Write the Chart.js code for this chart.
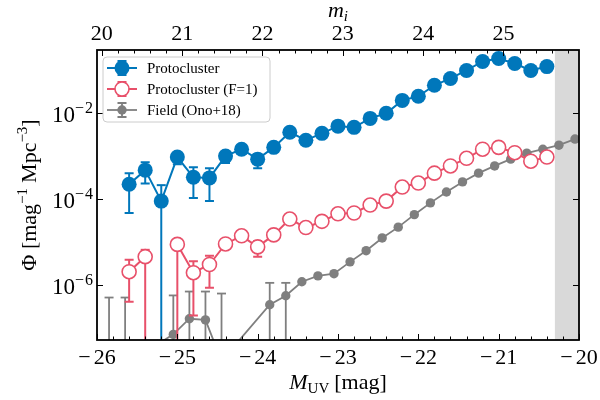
<!DOCTYPE html>
<html><head><meta charset="utf-8">
<script src="https://cdn.jsdelivr.net/npm/chart.js@4.4.0/dist/chart.umd.min.js"></script>
<style>html,body{margin:0;padding:0;background:#fff}#wrap{width:600px;height:400px}</style>
</head><body><div id="wrap"><canvas id="c" width="600" height="400"></canvas></div>
<script>
// ---------- data ----------
const protoMag = [-25.6,-25.4,-25.2,-25.0,-24.8,-24.6,-24.4,-24.2,-24.0,-23.8,-23.6,-23.4,-23.2,-23.0,-22.8,-22.6,-22.4,-22.2,-22.0,-21.8,-21.6,-21.4,-21.2,-21.0,-20.8,-20.6,-20.4];
const protoPhi = [2.2e-4,4.7e-4,8.9e-5,9.5e-4,3.2e-4,3.1e-4,1.0e-3,1.45e-3,8.5e-4,1.6e-3,3.6e-3,2.35e-3,3.4e-3,5.0e-3,4.7e-3,7.6e-3,1.0e-2,2.0e-2,2.5e-2,4.5e-2,6.5e-2,0.10,0.162,0.19,0.145,0.10,0.123];
const protoLo  = [4.7e-5,2.3e-4,0,6.5e-4,1.05e-4,8.9e-5,6.9e-4,1.2e-3,5.2e-4,1.35e-3,3.1e-3,2.0e-3,2.9e-3,4.4e-3,4.1e-3,6.8e-3,9.0e-3,1.8e-2,2.3e-2,4.2e-2,6.1e-2,0.095,0.155,0.182,0.138,0.094,0.116];
const protoHi  = [4.0e-4,7.2e-4,2.1e-4,1.2e-3,5.5e-4,5.2e-4,1.26e-3,1.7e-3,1.1e-3,1.85e-3,4.1e-3,2.7e-3,3.9e-3,5.6e-3,5.3e-3,8.4e-3,1.1e-2,2.2e-2,2.7e-2,4.8e-2,6.9e-2,0.105,0.169,0.198,0.152,0.106,0.13];

const f1Phi = [2.0e-6,4.5e-6,null,8.7e-6,1.9e-6,2.95e-6,8.9e-6,1.38e-5,7.6e-6,1.45e-5,3.4e-5,2.15e-5,3.0e-5,4.5e-5,4.7e-5,7.2e-5,8.9e-5,1.9e-4,2.35e-4,4.0e-4,5.9e-4,8.9e-4,1.45e-3,1.6e-3,1.2e-3,7.6e-4,9.5e-4];
const f1Lo  = [4.0e-7,0,null,0,1.9e-7,8.5e-7,7.5e-6,1.2e-5,4.5e-6,1.25e-5,3.0e-5,1.9e-5,2.7e-5,4.1e-5,4.3e-5,6.6e-5,8.2e-5,1.75e-4,2.2e-4,3.75e-4,5.6e-4,8.5e-4,1.38e-3,1.53e-3,1.14e-3,7.2e-4,9.0e-4];
const f1Hi  = [3.8e-6,6.5e-6,null,1.05e-5,3.5e-6,4.7e-6,1.05e-5,1.6e-5,1.05e-5,1.7e-5,3.8e-5,2.45e-5,3.3e-5,4.9e-5,5.1e-5,7.8e-5,9.6e-5,2.05e-4,2.5e-4,4.25e-4,6.2e-4,9.3e-4,1.52e-3,1.67e-3,1.26e-3,8.0e-4,1.0e-3];

const fieldMag = [-25.85,-25.65,-25.45,-25.25,-25.05,-24.85,-24.65,-24.45,-24.25,-24.05,-23.85,-23.65,-23.45,-23.25,-23.05,-22.85,-22.65,-22.45,-22.25,-22.05,-21.85,-21.65,-21.45,-21.25,-21.05,-20.85,-20.65,-20.45,-20.25,-20.05];
const fieldPhi = [null,null,null,4.0e-8,6.9e-8,1.6e-7,1.5e-7,1.66e-8,null,null,3.4e-7,5.5e-7,1.17e-6,1.6e-6,1.8e-6,3.4e-6,6.2e-6,1.23e-5,2.2e-5,4.3e-5,8.1e-5,1.45e-4,2.5e-4,4.0e-4,5.9e-4,8.5e-4,1.17e-3,1.45e-3,1.8e-3,2.5e-3];
const fieldLo  = [0,0,null,null,0,0,0,0,null,null,0,0,null,null,null,null,null,null,null,null,null,null,null,null,null,null,null,null,null,null];
const fieldHi  = [5.0e-7,5.0e-7,null,null,5.6e-7,6.9e-7,6.9e-7,6.2e-7,null,null,1.1e-6,1.1e-6,null,null,null,null,null,null,null,null,null,null,null,null,null,null,null,null,null,null];

const xTickLabels = [-26,-25,-24,-23,-22,-21,-20];
const topTickLabels = [20,21,22,23,24,25];
const yTickExponents = [-2,-4,-6];
const seriesNames = ['Protocluster','Protocluster (F=1)','Field (Ono+18)'];
const magOffset = 45.94;      // m_i = M_UV + offset
const shadeFrom = -20.3;      // grey shaded magnitude range
const shadeTo = -20.0;

// ---------- styles ----------
const BLUE = '#0077bb', RED = '#e8506a', GREY = '#7f7f7f';
const SERIF = '"Liberation Serif", "DejaVu Serif", serif';

function pts(xs, ys){ return xs.map((x,i)=>({x:x, y:ys[i]})); }

function drawRich(ctx, parts, x, y, align){
  let w = 0;
  parts.forEach(p=>{ ctx.font = p.font; p.w = ctx.measureText(p.t).width; w += p.w + (p.gap||0); });
  let cx = align==='center' ? x - w/2 : (align==='right' ? x - w : x);
  parts.forEach(p=>{ ctx.font = p.font; ctx.fillText(p.t, cx, y - (p.dy||0)); cx += p.w + (p.gap||0); });
}

const errorBars = {
  id:'errorBars',
  beforeDatasetDraw(chart, args){
    const ds = chart.data.datasets[args.index];
    if(!ds.errLo) return;
    const xs = chart.scales.x, ys = chart.scales.y, a = chart.chartArea, ctx = chart.ctx;
    ctx.save();
    ctx.beginPath(); ctx.rect(a.left, a.top, a.right-a.left, a.bottom-a.top); ctx.clip();
    ctx.strokeStyle = ds.borderColor; ctx.lineWidth = ds.errWidth;
    ds.data.forEach((p,i)=>{
      const lo = ds.errLo[i], hi = ds.errHi[i];
      if(lo===null || hi===null || lo===undefined) return;
      const px = xs.getPixelForValue(p.x);
      const yh = ys.getPixelForValue(hi);
      const yl = lo===0 ? a.bottom+5 : ys.getPixelForValue(lo);
      ctx.beginPath(); ctx.moveTo(px, yh); ctx.lineTo(px, yl); ctx.stroke();
      const c = ds.capHalf;
      ctx.beginPath(); ctx.moveTo(px-c, yh); ctx.lineTo(px+c, yh);
      if(lo!==0){ ctx.moveTo(px-c, yl); ctx.lineTo(px+c, yl); }
      ctx.stroke();
    });
    ctx.restore();
  }
};

const decor = {
  id:'decor',
  beforeDatasetsDraw(chart){
    const a = chart.chartArea, ctx = chart.ctx, xs = chart.scales.x;
    ctx.save();
    ctx.fillStyle = '#d9d9d9';
    const x0 = xs.getPixelForValue(shadeFrom), x1 = xs.getPixelForValue(shadeTo);
    ctx.fillRect(x0, a.top, x1-x0, a.bottom-a.top);
    ctx.restore();
  },
  afterDraw(chart){
    const a = chart.chartArea, ctx = chart.ctx, xs = chart.scales.x, x2 = chart.scales.x2, ys = chart.scales.y;
    ctx.save();
    // ticks (inward)
    ctx.strokeStyle = '#000'; ctx.lineWidth = 1;
    ctx.beginPath();
    for(let k=0;k<=30;k++){
      const v = -26 + k*0.2; const px = Math.round(xs.getPixelForValue(v))+0.5;
      const L = (k%5===0) ? 6 : 3.5;
      ctx.moveTo(px, a.bottom); ctx.lineTo(px, a.bottom-L);
    }
    for(let k=0;k<=35;k++){
      const v = 19.2 + k*0.2; if(v < x2.min-1e-6 || v > x2.max+1e-6) continue;
      const px = Math.round(x2.getPixelForValue(v))+0.5;
      const L = (Math.abs(v-Math.round(v))<1e-6) ? 6 : 3.5;
      ctx.moveTo(px, a.top); ctx.lineTo(px, a.top+L);
    }
    yTickExponents.forEach(e=>{
      const py = Math.round(ys.getPixelForValue(Math.pow(10,e)))+0.5;
      ctx.moveTo(a.left, py); ctx.lineTo(a.left+6, py);
      ctx.moveTo(a.right, py); ctx.lineTo(a.right-6, py);
    });
    ctx.stroke();
    // frame
    ctx.lineWidth = 1.8;
    ctx.strokeRect(a.left, a.top, a.right-a.left, a.bottom-a.top);
    // tick labels
    ctx.fillStyle = '#000'; ctx.textBaseline = 'alphabetic';
    xTickLabels.forEach(v=>{
      drawRich(ctx, [{t:'\u2212', font:'22px '+SERIF, gap:3},{t:String(Math.abs(v)), font:'22px '+SERIF}], xs.getPixelForValue(v), 364, 'center');
    });
    topTickLabels.forEach(v=>{
      drawRich(ctx, [{t:String(v), font:'22px '+SERIF}], x2.getPixelForValue(v), 40, 'center');
    });
    yTickExponents.forEach(e=>{
      const py = ys.getPixelForValue(Math.pow(10,e));
      drawRich(ctx, [{t:'10', font:'23px '+SERIF},{t:'\u2212', font:'16px '+SERIF, dy:9, gap:1},{t:String(Math.abs(e)), font:'16px '+SERIF, dy:9}], 93, py+9, 'right');
    });
    // axis titles
    drawRich(ctx, [{t:'M', font:'italic 22px '+SERIF},{t:'UV', font:'15px '+SERIF, dy:-4, gap:5},{t:'[mag]', font:'22px '+SERIF}], (a.left+a.right)/2, 389, 'center');
    drawRich(ctx, [{t:'m', font:'italic 22px '+SERIF},{t:'i', font:'italic 15px '+SERIF, dy:-4}], (a.left+a.right)/2, 17, 'center');
    ctx.save();
    ctx.translate(36, (a.top+a.bottom)/2); ctx.rotate(-Math.PI/2);
    drawRich(ctx, [{t:'\u03a6 [mag', font:'22px '+SERIF},{t:'\u22121', font:'15px '+SERIF, dy:9, gap:5},{t:'Mpc', font:'22px '+SERIF},{t:'\u22123', font:'15px '+SERIF, dy:9},{t:']', font:'22px '+SERIF}], 0, 0, 'center');
    ctx.restore();
    // legend
    const lx = 103, ly = 57, lw = 167, lh = 65, r = 4;
    ctx.beginPath();
    ctx.moveTo(lx+r, ly); ctx.lineTo(lx+lw-r, ly); ctx.quadraticCurveTo(lx+lw, ly, lx+lw, ly+r);
    ctx.lineTo(lx+lw, ly+lh-r); ctx.quadraticCurveTo(lx+lw, ly+lh, lx+lw-r, ly+lh);
    ctx.lineTo(lx+r, ly+lh); ctx.quadraticCurveTo(lx, ly+lh, lx, ly+lh-r);
    ctx.lineTo(lx, ly+r); ctx.quadraticCurveTo(lx, ly, lx+r, ly); ctx.closePath();
    ctx.fillStyle = 'rgba(255,255,255,0.85)'; ctx.fill();
    ctx.strokeStyle = '#cccccc'; ctx.lineWidth = 1; ctx.stroke();
    chart.data.datasets.forEach((ds,i)=>{
      const cy = 68 + i*21, cx = 122;
      ctx.strokeStyle = ds.borderColor; ctx.lineWidth = ds.borderWidth;
      ctx.beginPath(); ctx.moveTo(107, cy); ctx.lineTo(137, cy); ctx.stroke();
      ctx.lineWidth = ds.errWidth;
      ctx.beginPath(); ctx.moveTo(cx, cy-7); ctx.lineTo(cx, cy+7);
      ctx.moveTo(cx-ds.capHalf, cy-7); ctx.lineTo(cx+ds.capHalf, cy-7);
      ctx.moveTo(cx-ds.capHalf, cy+7); ctx.lineTo(cx+ds.capHalf, cy+7); ctx.stroke();
      ctx.beginPath(); ctx.arc(cx, cy, ds.pointRadius, 0, Math.PI*2);
      ctx.fillStyle = ds.pointBackgroundColor; ctx.fill();
      if(ds.pointBorderWidth>0){ ctx.lineWidth = ds.pointBorderWidth; ctx.strokeStyle = ds.pointBorderColor; ctx.stroke(); }
      ctx.fillStyle = '#000';
      drawRich(ctx, [{t:ds.label, font:'15px '+SERIF}], 147, cy+5, 'left');
    });
    ctx.restore();
  }
};

new Chart(document.getElementById('c').getContext('2d'), {
  type:'line',
  data:{ datasets:[
    { label:seriesNames[0], data:pts(protoMag, protoPhi), errLo:protoLo, errHi:protoHi,
      borderColor:BLUE, borderWidth:2, pointRadius:7.5, pointBackgroundColor:BLUE, pointBorderColor:BLUE, pointBorderWidth:0,
      errWidth:2, capHalf:4.5, order:0, spanGaps:false, clip:0 },
    { label:seriesNames[1], data:pts(protoMag, f1Phi), errLo:f1Lo, errHi:f1Hi,
      borderColor:RED, borderWidth:2, pointRadius:7, pointBackgroundColor:'#ffffff', pointBorderColor:RED, pointBorderWidth:1.6,
      errWidth:2, capHalf:4.5, order:1, spanGaps:false, clip:0 },
    { label:seriesNames[2], data:pts(fieldMag, fieldPhi), errLo:fieldLo, errHi:fieldHi,
      borderColor:GREY, borderWidth:1.8, pointRadius:4.7, pointBackgroundColor:GREY, pointBorderColor:GREY, pointBorderWidth:0,
      errWidth:1.8, capHalf:4.5, order:2, spanGaps:true, clip:0 }
  ]},
  options:{
    responsive:false, animation:false, devicePixelRatio:1,
    layout:{padding:{left:0, right:21, top:0, bottom:0}},
    plugins:{ legend:{display:false}, tooltip:{enabled:false} },
    elements:{ line:{tension:0} },
    scales:{
      x:{ type:'linear', position:'bottom', min:-26, max:-20,
          ticks:{display:false}, grid:{display:false}, border:{display:false},
          afterFit(s){ s.height = 60; s.paddingLeft = 0; s.paddingRight = 0; } },
      x2:{ type:'linear', position:'top', min:-26+magOffset, max:-20+magOffset,
          ticks:{display:false}, grid:{display:false}, border:{display:false},
          afterFit(s){ s.height = 50; s.paddingLeft = 0; s.paddingRight = 0; } },
      y:{ type:'logarithmic', position:'left', min:5.1e-8, max:0.30,
          ticks:{display:false}, grid:{display:false}, border:{display:false},
          afterFit(s){ s.width = 97; s.paddingTop = 0; s.paddingBottom = 0; } }
    }
  },
  plugins:[errorBars, decor]
});
</script>
</body></html>
